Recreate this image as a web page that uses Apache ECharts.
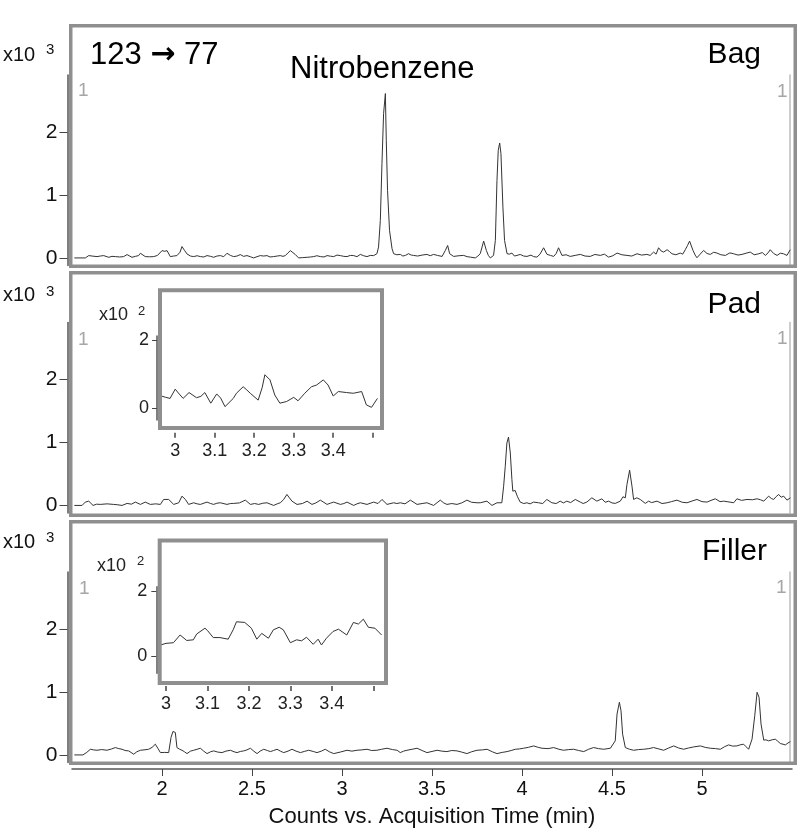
<!DOCTYPE html>
<html><head><meta charset="utf-8">
<script src="https://cdn.jsdelivr.net/npm/echarts@6/dist/echarts.min.js"></script>
<style>html,body{margin:0;padding:0;background:#fff}#c{width:800px;height:838px}</style>
</head><body><div id="c"></div>
<script>
// ---- data: [time (min), counts] ----
const bagTrace = [[1.513,0],[1.574,0],[1.593,37],[1.617,28],[1.639,21],[1.657,30],[1.676,37],[1.704,10],[1.722,25],[1.741,21],[1.765,15],[1.787,21],[1.806,53],[1.833,10],[1.852,25],[1.870,37],[1.880,74],[1.907,21],[1.93,18],[1.954,21],[1.975,40],[2.0,116],[2.015,105],[2.028,116],[2.046,21],[2.065,30],[2.083,37],[2.1,90],[2.111,180],[2.125,120],[2.139,63],[2.158,30],[2.176,21],[2.195,35],[2.213,21],[2.232,15],[2.25,37],[2.27,25],[2.287,10],[2.305,30],[2.324,37],[2.343,20],[2.361,74],[2.38,40],[2.398,21],[2.417,30],[2.435,53],[2.453,25],[2.472,37],[2.49,20],[2.509,0],[2.528,20],[2.546,37],[2.565,30],[2.583,37],[2.6,15],[2.62,21],[2.64,30],[2.657,37],[2.672,25],[2.685,37],[2.7,80],[2.713,116],[2.727,85],[2.741,53],[2.759,0],[2.78,5],[2.806,10],[2.825,15],[2.843,21],[2.86,35],[2.88,21],[2.9,15],[2.917,37],[2.935,28],[2.954,21],[2.972,45],[2.991,37],[3.01,25],[3.028,21],[3.046,40],[3.065,37],[3.083,20],[3.102,56],[3.12,35],[3.139,21],[3.157,40],[3.176,37],[3.194,67],[3.203,172],[3.213,595],[3.222,1495],[3.231,2288],[3.241,2606],[3.246,1865],[3.253,1071],[3.264,437],[3.278,146],[3.287,67],[3.305,50],[3.324,56],[3.338,30],[3.352,40],[3.37,67],[3.385,45],[3.398,40],[3.42,30],[3.445,45],[3.472,56],[3.49,35],[3.509,56],[3.53,40],[3.556,24],[3.574,119],[3.587,198],[3.598,67],[3.62,24],[3.65,35],[3.676,40],[3.695,20],[3.713,13],[3.741,0],[3.755,30],[3.768,67],[3.787,267],[3.802,119],[3.813,40],[3.824,0],[3.842,40],[3.852,278],[3.861,1230],[3.868,1706],[3.876,1822],[3.883,1654],[3.894,806],[3.903,278],[3.917,67],[3.93,60],[3.944,77],[3.958,30],[3.972,40],[3.99,55],[4.009,30],[4.028,24],[4.05,45],[4.065,20],[4.083,13],[4.1,60],[4.12,161],[4.139,56],[4.158,40],[4.176,24],[4.19,70],[4.203,161],[4.222,40],[4.245,50],[4.268,24],[4.295,40],[4.324,56],[4.35,30],[4.379,24],[4.405,55],[4.435,40],[4.458,60],[4.481,13],[4.505,35],[4.528,77],[4.555,50],[4.583,40],[4.61,30],[4.639,66],[4.665,45],[4.694,56],[4.712,40],[4.731,93],[4.745,60],[4.759,161],[4.773,110],[4.787,93],[4.806,130],[4.82,100],[4.833,66],[4.855,50],[4.879,77],[4.893,60],[4.907,130],[4.92,200],[4.931,267],[4.95,119],[4.962,45],[4.972,3],[4.99,60],[5.009,119],[5.028,70],[5.046,56],[5.065,90],[5.083,77],[5.105,50],[5.13,40],[5.155,80],[5.176,66],[5.2,45],[5.222,56],[5.245,75],[5.268,93],[5.29,50],[5.315,66],[5.335,85],[5.352,40],[5.367,80],[5.379,130],[5.398,70],[5.417,40],[5.435,75],[5.453,66],[5.472,40],[5.49,130]];

const padTrace = [[1.513,0],[1.556,0],[1.574,53],[1.593,68],[1.617,0],[1.637,20],[1.657,16],[1.695,25],[1.731,16],[1.755,10],[1.778,0],[1.806,32],[1.83,20],[1.852,53],[1.88,16],[1.907,53],[1.935,16],[1.965,25],[1.991,16],[2.009,95],[2.037,95],[2.065,16],[2.093,42],[2.111,147],[2.13,95],[2.148,16],[2.176,42],[2.195,25],[2.213,16],[2.25,53],[2.27,30],[2.287,16],[2.305,35],[2.324,42],[2.361,16],[2.38,30],[2.398,32],[2.43,40],[2.463,84],[2.491,16],[2.515,30],[2.537,16],[2.56,35],[2.583,42],[2.62,0],[2.64,25],[2.657,42],[2.675,90],[2.694,174],[2.708,120],[2.722,68],[2.75,16],[2.78,30],[2.806,68],[2.833,16],[2.855,40],[2.88,84],[2.917,16],[2.935,35],[2.954,53],[2.991,16],[3.01,30],[3.028,53],[3.065,0],[3.083,25],[3.102,42],[3.139,16],[3.176,53],[3.2,30],[3.222,95],[3.25,16],[3.287,42],[3.305,30],[3.324,42],[3.35,25],[3.38,84],[3.417,16],[3.445,30],[3.472,42],[3.509,0],[3.546,84],[3.565,40],[3.583,16],[3.61,30],[3.639,16],[3.665,40],[3.694,84],[3.72,50],[3.75,42],[3.768,42],[3.805,68],[3.833,0],[3.861,42],[3.888,42],[3.898,305],[3.907,621],[3.916,989],[3.925,1084],[3.935,831],[3.944,410],[3.949,226],[3.962,237],[3.975,137],[3.99,53],[4.01,30],[4.027,42],[4.045,25],[4.064,53],[4.092,42],[4.115,30],[4.138,95],[4.166,42],[4.19,30],[4.212,68],[4.23,40],[4.249,68],[4.27,45],[4.296,95],[4.324,53],[4.34,30],[4.36,53],[4.388,121],[4.416,68],[4.444,105],[4.462,50],[4.481,68],[4.5,40],[4.518,32],[4.546,68],[4.561,137],[4.574,121],[4.583,331],[4.598,558],[4.611,305],[4.62,95],[4.638,121],[4.657,95],[4.685,32],[4.703,68],[4.72,45],[4.75,68],[4.778,30],[4.806,42],[4.83,60],[4.861,84],[4.89,50],[4.917,42],[4.945,70],[4.972,95],[5.0,60],[5.028,53],[5.05,80],[5.074,105],[5.1,60],[5.12,68],[5.15,55],[5.176,42],[5.194,105],[5.22,80],[5.25,95],[5.28,90],[5.306,105],[5.325,90],[5.343,68],[5.37,147],[5.385,110],[5.398,95],[5.412,140],[5.426,174],[5.44,130],[5.454,147],[5.472,84],[5.491,121]];

const fillerTrace = [[1.513,0],[1.561,0],[1.582,40],[1.602,90],[1.62,80],[1.639,74],[1.665,85],[1.694,74],[1.72,95],[1.741,117],[1.76,100],[1.778,90],[1.795,70],[1.815,64],[1.843,11],[1.86,50],[1.88,74],[1.9,80],[1.926,90],[1.945,120],[1.963,170],[1.978,100],[1.991,37],[2.015,40],[2.037,37],[2.05,276],[2.061,372],[2.074,356],[2.083,117],[2.098,90],[2.111,74],[2.125,50],[2.139,21],[2.158,60],[2.176,74],[2.195,90],[2.213,106],[2.232,60],[2.25,21],[2.27,50],[2.287,64],[2.31,45],[2.333,37],[2.355,60],[2.38,74],[2.4,50],[2.417,37],[2.435,55],[2.454,64],[2.472,80],[2.491,106],[2.51,60],[2.528,21],[2.545,60],[2.565,90],[2.585,70],[2.602,53],[2.62,70],[2.639,90],[2.658,60],[2.676,37],[2.7,60],[2.722,90],[2.745,60],[2.769,37],[2.79,55],[2.815,74],[2.84,55],[2.861,37],[2.885,60],[2.907,90],[2.93,50],[2.954,21],[2.99,45],[3.028,74],[3.055,60],[3.083,74],[3.11,80],[3.139,90],[3.165,70],[3.194,74],[3.22,90],[3.25,106],[3.28,85],[3.306,74],[3.324,37],[3.342,60],[3.361,74],[3.39,90],[3.417,106],[3.445,70],[3.472,37],[3.5,55],[3.528,74],[3.555,60],[3.583,53],[3.61,70],[3.639,64],[3.665,45],[3.694,21],[3.72,50],[3.75,74],[3.78,80],[3.806,90],[3.835,50],[3.861,21],[3.89,40],[3.917,53],[3.94,70],[3.963,90],[3.985,95],[4.009,106],[4.035,120],[4.065,143],[4.09,120],[4.111,106],[4.145,100],[4.176,117],[4.205,90],[4.231,74],[4.26,85],[4.287,90],[4.315,70],[4.343,53],[4.37,90],[4.398,117],[4.425,100],[4.454,90],[4.491,106],[4.518,223],[4.528,648],[4.541,834],[4.55,701],[4.559,329],[4.574,117],[4.597,90],[4.62,74],[4.648,85],[4.676,90],[4.705,100],[4.731,117],[4.76,95],[4.787,74],[4.815,110],[4.843,143],[4.87,110],[4.898,90],[4.925,110],[4.954,127],[4.991,143],[5.018,120],[5.046,106],[5.075,100],[5.102,90],[5.125,130],[5.148,159],[5.17,140],[5.194,143],[5.212,160],[5.231,170],[5.245,130],[5.259,90],[5.278,250],[5.293,621],[5.306,993],[5.317,913],[5.328,489],[5.343,234],[5.355,240],[5.37,223],[5.39,240],[5.407,250],[5.42,220],[5.435,181],[5.45,170],[5.463,159],[5.478,190],[5.491,212]];

const padInset = [[2.965,36],[2.976,32],[2.987,29],[3.0,56],[3.01,42],[3.02,29],[3.035,46],[3.054,31],[3.065,35],[3.075,46],[3.09,15],[3.105,42],[3.115,30],[3.126,5],[3.147,29],[3.155,44],[3.172,63],[3.18,55],[3.19,44],[3.21,24],[3.22,60],[3.227,98],[3.24,83],[3.252,39],[3.265,15],[3.282,20],[3.3,32],[3.311,22],[3.328,44],[3.345,63],[3.358,68],[3.375,83],[3.387,68],[3.4,36],[3.413,49],[3.434,46],[3.451,44],[3.472,49],[3.484,10],[3.497,3],[3.512,29]];

const fillerInset = [[2.987,34],[3.0,39],[3.018,41],[3.034,65],[3.05,48],[3.066,50],[3.074,68],[3.094,86],[3.1,79],[3.114,57],[3.13,57],[3.15,52],[3.162,81],[3.17,106],[3.19,104],[3.206,86],[3.219,52],[3.231,70],[3.247,55],[3.259,81],[3.273,89],[3.283,81],[3.3,41],[3.315,50],[3.327,47],[3.339,58],[3.355,36],[3.367,52],[3.375,34],[3.387,55],[3.403,76],[3.416,83],[3.436,65],[3.452,104],[3.464,99],[3.476,114],[3.488,89],[3.504,86],[3.52,65]];

const mainXTicks = [2, 2.5, 3, 3.5, 4, 4.5, 5];
const mainYTicks = [0, 1000, 2000];
const insetXTicks = [3, 3.1, 3.2, 3.3, 3.4, 3.5];
const insetXLabels = [3, 3.1, 3.2, 3.3, 3.4];
const insetYTicks = [0, 200];
const panelNames = ['Bag', 'Pad', 'Filler'];
const transitionFrom = '123', transitionTo = '77';
const compoundText = 'Nitrobenzene';
const xTitle = 'Counts vs. Acquisition Time (min)';

// ---- layout ----
const FONT = "'Liberation Sans', Arial, sans-serif";
const mainGrids = [
  {left: 72, top: 75, width: 720, height: 190.5},
  {left: 72, top: 322.5, width: 720, height: 190.5},
  {left: 72, top: 572, width: 720, height: 190.5}
];
const insetGrids = [
  {left: 161, top: 336, width: 220, height: 84},
  {left: 162, top: 586.7, width: 222, height: 86.6}
];
const fmt = v => String(+(+v).toFixed(2));

const xAxis = [], yAxis = [], series = [];
const traces = [bagTrace, padTrace, fillerTrace];
mainGrids.forEach((g, i) => {
  const last = i === 2;
  xAxis.push({
    type: 'value', gridIndex: i, min: 1.5, max: 5.5, offset: 6.5,
    axisLine: {show: last, onZero: false, lineStyle: {color: '#555', width: 1.5}},
    axisTick: {show: last, length: 7, customValues: mainXTicks, lineStyle: {color: '#444', width: 1}},
    axisLabel: {show: last, customValues: mainXTicks, formatter: fmt, color: '#111', fontSize: 20, fontFamily: FONT, margin: 10},
    splitLine: {show: false},
    name: last ? xTitle : '', nameLocation: 'middle', nameGap: 37,
    nameTextStyle: {color: '#111', fontSize: 22, fontFamily: FONT}
  });
  yAxis.push({
    type: 'value', gridIndex: i, min: -120, max: 2900, offset: 4.5,
    axisLine: {show: true, onZero: false, lineStyle: {color: '#555', width: 1.5}},
    axisTick: {show: true, length: 8, customValues: mainYTicks, lineStyle: {color: '#444', width: 1}},
    axisLabel: {customValues: mainYTicks, formatter: v => String(v / 1000), color: '#111', fontSize: 21, fontFamily: FONT, margin: 10},
    splitLine: {show: false}
  });
  series.push({
    type: 'line', xAxisIndex: i, yAxisIndex: i, data: traces[i], showSymbol: false,
    lineStyle: {color: '#333', width: 1}, clip: true, animation: false
  });
});
// right-hand thin grey axis lines
mainGrids.forEach((g, i) => {
  yAxis.push({
    type: 'value', gridIndex: i, position: 'right', min: -120, max: 2900, offset: -2,
    axisLine: {show: true, onZero: false, lineStyle: {color: '#bdbdbd', width: 1.5}},
    axisTick: {show: false}, axisLabel: {show: false}, splitLine: {show: false}
  });
});
// insets
const insetRanges = [
  {xmin: 2.964, xmax: 3.521, ymin: -34, ymax: 211, yoff: 4, ymargin: 8},
  {xmin: 2.9904, xmax: 3.5258, ymin: -54, ymax: 215, yoff: 5.7, ymargin: 9}
];
const insetData = [padInset, fillerInset];
insetGrids.forEach((g, k) => {
  const r = insetRanges[k];
  const gi = 3 + k;
  xAxis.push({
    type: 'value', gridIndex: gi, min: r.xmin, max: r.xmax, offset: 12.7,
    axisLine: {show: false, onZero: false},
    axisTick: {show: true, length: 5, customValues: insetXTicks, lineStyle: {color: '#444', width: 1.5}},
    axisLabel: {customValues: insetXLabels, formatter: fmt, color: '#222', fontSize: 18, fontFamily: FONT, margin: 9},
    splitLine: {show: false}
  });
  yAxis.push({
    type: 'value', gridIndex: gi, min: r.ymin, max: r.ymax, offset: r.yoff,
    axisLine: {show: true, onZero: false, lineStyle: {color: '#555', width: 1.5}},
    axisTick: {show: true, length: 5, customValues: insetYTicks, lineStyle: {color: '#444', width: 1}},
    axisLabel: {customValues: insetYTicks, formatter: v => String(v / 100), color: '#222', fontSize: 18, fontFamily: FONT, margin: r.ymargin},
    splitLine: {show: false}
  });
  series.push({
    type: 'line', xAxisIndex: gi, yAxisIndex: 6 + k, data: insetData[k], showSymbol: false,
    lineStyle: {color: '#333', width: 1}, clip: true, animation: false
  });
});

// ---- decorations ----
const frameStyle = {fill: 'none', stroke: '#8f8f8f', lineWidth: 3.5};
const txt = (x, y, text, size, color, align, extra) => ({
  type: 'text', z: 100, silent: true,
  style: Object.assign({x: x, y: y, text: text, fill: color, fontSize: size, fontFamily: FONT, align: align || 'left', verticalAlign: 'middle'}, extra || {})
});
const graphic = [
  {type: 'rect', z: 90, silent: true, shape: {x: 70.75, y: 25.75, width: 724.5, height: 240.5}, style: frameStyle},
  {type: 'rect', z: 90, silent: true, shape: {x: 70.75, y: 272.75, width: 724.5, height: 242.5}, style: frameStyle},
  {type: 'rect', z: 90, silent: true, shape: {x: 70.75, y: 521.75, width: 724.5, height: 241.5}, style: frameStyle},
  {type: 'rect', z: 90, silent: true, shape: {x: 160, y: 290.3, width: 222, height: 137.7}, style: {fill: 'none', stroke: '#8f8f8f', lineWidth: 4}},
  {type: 'rect', z: 90, silent: true, shape: {x: 159.7, y: 540.5, width: 226.3, height: 142.5}, style: {fill: 'none', stroke: '#8f8f8f', lineWidth: 4}},
  // exponent labels
  txt(3, 55, 'x10', 20, '#111'), txt(46, 50, '3', 15, '#111'),
  txt(3, 295, 'x10', 20, '#111'), txt(46, 292, '3', 15, '#111'),
  txt(3, 542, 'x10', 20, '#111'), txt(46, 538, '3', 15, '#111'),
  txt(99, 315, 'x10', 18, '#222'), txt(138, 311, '2', 13, '#222'),
  txt(97, 566, 'x10', 18, '#222'), txt(137, 561, '2', 13, '#222'),
  // panel annotations
  txt(90, 55, '{n|' + transitionFrom + ' }{a|\u2192}{n| ' + transitionTo + '}', 31, '#000', 'left', {
    rich: {
      n: {fontSize: 31, fontFamily: FONT, fill: '#000', color: '#000'},
      a: {fontSize: 30, fontFamily: "'DejaVu Sans', sans-serif", fontWeight: 'bold', fill: '#000', color: '#000'}
    }
  }),
  txt(290, 69, compoundText, 31, '#000'),
  txt(761, 55, panelNames[0], 30, '#000', 'right'),
  txt(761, 305, panelNames[1], 30, '#000', 'right'),
  txt(767, 552, panelNames[2], 30, '#000', 'right'),
  // grey trace numbers
  txt(78, 91, '1', 19, '#a6a6a6'), txt(777, 92, '1', 19, '#a6a6a6'),
  txt(78, 340, '1', 19, '#a6a6a6'), txt(777, 339, '1', 19, '#a6a6a6'),
  txt(79, 589, '1', 19, '#a6a6a6'), txt(776, 588, '1', 19, '#a6a6a6')
];

const chart = echarts.init(document.getElementById('c'), null, {renderer: 'canvas'});
chart.setOption({
  animation: false,
  backgroundColor: '#fff',
  grid: mainGrids.concat(insetGrids),
  xAxis: xAxis,
  yAxis: yAxis,
  series: series,
  graphic: graphic
});
</script>
</body></html>
